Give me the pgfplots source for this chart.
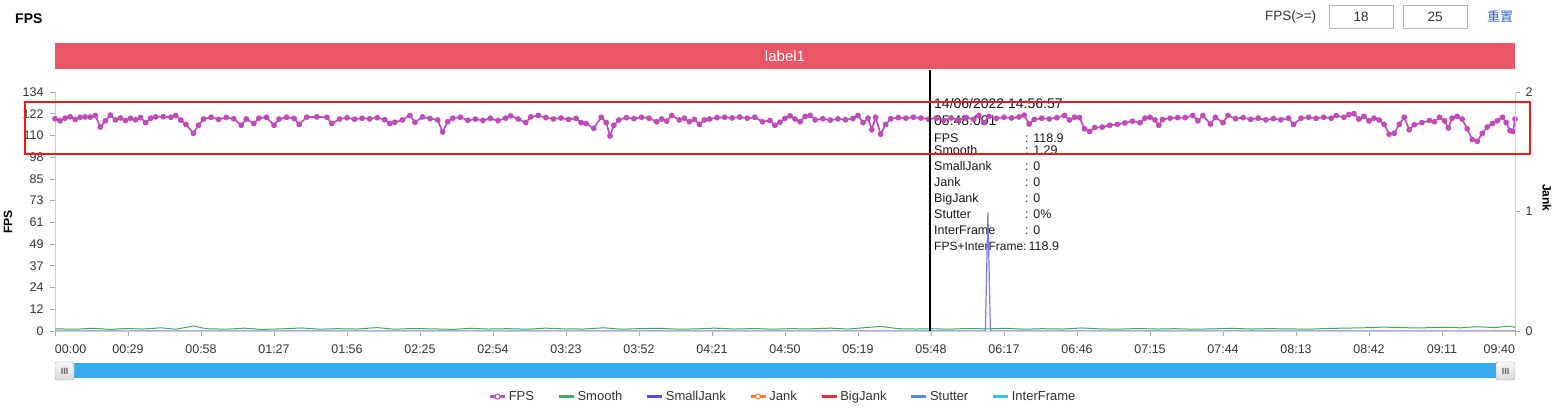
\documentclass[border=0pt]{standalone}
\usepackage{pgfplots}
\pgfplotsset{compat=1.18}
\usepackage{fontspec}
\setmainfont{Liberation Sans}
\newfontfamily\cjk{Noto Sans CJK SC}
\newcommand{\fs}[1]{\fontsize{#1}{#1}\selectfont}

\definecolor{fpscol}{HTML}{BF4CB8}
\definecolor{smoothcol}{HTML}{3DAA5C}
\definecolor{sjcol}{HTML}{5050E6}
\definecolor{jankcol}{HTML}{F57D32}
\definecolor{bjcol}{HTML}{E13237}
\definecolor{stcol}{HTML}{508CDC}
\definecolor{ifcol}{HTML}{28C8E1}
\definecolor{bannercol}{HTML}{EA5665}
\definecolor{boxred}{HTML}{E01E1E}
\definecolor{slidercol}{HTML}{38AAF0}
\definecolor{axgray}{HTML}{CCCCCC}
\definecolor{txt}{HTML}{333333}
\definecolor{linkblue}{HTML}{3366CC}

\begin{document}
\begin{tikzpicture}[x=1pt,y=1pt]
\path[use as bounding box, fill=white] (0,0) rectangle (1562,411);

% header
\node[anchor=west, font=\fs{14}\bfseries, text=black, inner sep=0] at (15,392) {FPS};
\node[anchor=west, font=\fs{13.5}, text=txt, inner sep=0] at (1265,394) {FPS(>=)};
\draw[draw=gray!60, fill=white] (1329,383) rectangle (1393,406);
\node[font=\fs{13.5}, text=txt] at (1361,394.5) {18};
\draw[draw=gray!60, fill=white] (1403,383) rectangle (1467,406);
\node[font=\fs{13.5}, text=txt] at (1435,394.5) {25};
\node[font=\cjk\fs{13}, text=linkblue] at (1500,395) {重置};

% banner
\fill[bannercol] (55,342) rectangle (1515,368);
\node[font=\fs{15}, text=white] at (785,355) {label1};

% axis titles
\node[rotate=90, font=\fs{12}\bfseries, text=black] at (8,189) {FPS};
\node[rotate=-90, font=\fs{12}\bfseries, text=black] at (1547,213) {Jank};

% tooltip text
\begin{scope}[every node/.style={anchor=base west, inner sep=0, text=black!90}]
\node[font=\fs{14}] at (934,302) {14/06/2022 14:56:57};
\node[font=\fs{14}] at (934,285) {05:48:001};
\node[font=\fs{12.5}] at (934,268) {FPS};            \node[font=\fs{12.5}] at (1025,268) {: 118.9};
\node[font=\fs{12.5}] at (934,256) {Smooth};         \node[font=\fs{12.5}] at (1025,256) {: 1.29};
\node[font=\fs{12.5}] at (934,240) {SmallJank};      \node[font=\fs{12.5}] at (1025,240) {: 0};
\node[font=\fs{12.5}] at (934,224) {Jank};           \node[font=\fs{12.5}] at (1025,224) {: 0};
\node[font=\fs{12.5}] at (934,208) {BigJank};        \node[font=\fs{12.5}] at (1025,208) {: 0};
\node[font=\fs{12.5}] at (934,192) {Stutter};        \node[font=\fs{12.5}] at (1025,192) {: 0\%};
\node[font=\fs{12.5}] at (934,176) {InterFrame};     \node[font=\fs{12.5}] at (1025,176) {: 0};
\node[font=\fs{12}] at (934,160) {FPS+InterFrame:};  \node[font=\fs{12.5}] at (1025,160) {\ 118.9};
\end{scope}

\begin{axis}[
    at={(55pt,80pt)}, anchor=south west,
    width=1460pt, height=239pt, scale only axis,
    xmin=0, xmax=580, ymin=0, ymax=134.2,
    axis x line*=bottom, axis y line*=left,
    axis line style={-, draw=axgray, line width=0.8pt},
    tick style={draw=gray!70, line width=0.8pt},
    tick align=outside, major tick length=5pt,
    xtick={0,29,58,87,116,145,174,203,232,261,290,319,348,377,406,435,464,493,522,551,580},
    xticklabels={\makebox[0pt][l]{00:00},00:29,00:58,01:27,01:56,02:25,02:54,03:23,03:52,04:21,04:50,05:19,05:48,06:17,06:46,07:15,07:44,08:13,08:42,09:11,\makebox[0pt][r]{09:40}},
    ytick={0,12.2,24.4,36.6,48.8,61,73.2,85.4,97.6,109.8,122,134.2},
    yticklabels={0,12,24,37,49,61,73,85,98,110,122,134},
    ticklabel style={font=\fs{12.5}, text=txt},
    xticklabel style={yshift=-5pt},
    yticklabel style={xshift=-3pt},
    /pgf/number format/assume math mode=true,
    legend columns=7,
    legend style={at={(rel axis cs:0.4985,-0.274)}, anchor=center, draw=none, fill=none,
        font=\fs{13}, text=txt,
        /tikz/every even column/.append style={column sep=21pt}},
    legend image code/.code={\draw[#1, mark=none, line width=3.5pt] (0pt,0pt) -- (15pt,0pt);},
    clip=false,
]
\addplot[fpscol, line width=1.7pt, mark=*, mark size=2pt, mark options={solid, fill=fpscol},
    legend image code/.code={\draw[fpscol, line width=3.5pt] (0pt,0pt) -- (15pt,0pt); \draw[fpscol, fill=white, line width=1pt] (7.5pt,0pt) circle (2.6pt);}]
coordinates {
(0,119.2)(2,118.0)(4,119.5)(6,120.3)(8,118.8)(10,120.0)(12,120.2)(14,120.1)(16,121.0)(18,114.5)
(20,118.0)(22,121.2)(24,118.5)(26,119.6)(28,118.2)(30,119.4)(32,118.6)(34,119.8)(36,117.0)(38,119.5)
(40,120.2)(43,120.3)(46,120.0)(48,121.0)(50,118.4)(52,116.0)(55,111.0)(57,115.5)(59,119.0)(62,120.0)
(65,118.8)(68,119.9)(71,119.2)(74,115.5)(76,119.0)(79,116.5)(81,119.5)(84,120.0)(87,115.5)(89,119.0)
(92,120.0)(95,119.3)(97,116.0)(100,120.1)(104,120.2)(108,120.0)(110,116.5)(113,119.0)(116,119.7)(119,118.9)
(122,119.5)(125,119.1)(128,119.8)(131,118.6)(133,116.5)(135,117.2)(138,118.5)(141,121.0)(143,117.2)(146,120.2)
(149,119.3)(152,118.5)(154,111.8)(156,117.5)(158,119.5)(161,120.0)(164,118.3)(167,119.0)(170,118.2)(173,119.4)
(176,118.1)(179,119.5)(181,120.8)(184,119.0)(187,117.0)(189,120.2)(192,121.0)(195,119.8)(198,119.0)(201,119.6)
(204,118.8)(207,119.4)(209,117.0)(211,116.5)(214,113.8)(217,120.0)(219,117.0)(220.5,109.5)(222,115.5)(224,118.5)
(227,119.8)(230,119.2)(233,120.0)(236,119.5)(239,117.5)(241,119.0)(243,117.8)(245,121.0)(248,118.5)(250,119.5)
(252,117.5)(254,118.8)(256,116.0)(258,118.5)(260,119.0)(263,119.8)(266,120.0)(269,119.6)(272,120.1)(275,119.5)
(278,120.0)(281,117.5)(284,118.2)(286,115.5)(288,117.2)(290,119.4)(292,120.8)(294,119.0)(296,117.5)(298,120.5)
(300,121.0)(302,118.5)(305,119.2)(308,118.4)(311,119.1)(314,118.6)(317,119.3)(319,121.0)(321,117.0)(323,119.5)
(324.5,113.0)(326,120.0)(328,110.5)(330,116.0)(332,119.2)(335,119.8)(338,119.5)(341,120.1)(344,119.6)(347,118.9)
(350,119.5)(353,118.2)(356,119.6)(359,118.5)(362,119.8)(365,118.8)(367,121.0)(369,117.0)(371,120.5)(374,119.4)
(377,120.0)(380,119.6)(383,120.2)(385,121.2)(387,116.2)(389,118.8)(392,119.5)(395,119.0)(398,119.8)(401,121.0)
(403,118.5)(405,120.0)(407,119.8)(409,113.5)(411,112.0)(413,114.2)(416,114.5)(419,115.5)(422,116.0)(425,116.8)
(428,117.8)(431,117.0)(433,119.5)(435,120.0)(437,118.5)(438.5,115.5)(440,118.8)(443,119.5)(446,119.8)(449,119.8)
(452,121.0)(454,118.0)(456,121.0)(459,116.2)(461,120.0)(464,117.0)(466,121.0)(469,119.2)(472,119.8)(475,118.8)
(478,119.5)(481,118.5)(484,119.3)(487,118.6)(490,119.5)(492,116.0)(495,119.5)(498,120.0)(501,119.4)(504,120.0)
(507,119.5)(509,121.0)(512,120.0)(514,121.5)(516,122.0)(518,119.0)(520,120.5)(522,118.0)(524,119.5)(526,118.5)
(528,116.0)(530,110.5)(532,111.0)(534,116.0)(536,120.0)(538,113.0)(540,115.8)(543,117.0)(546,118.2)(548,117.5)
(550,120.0)(552,118.0)(553.5,114.0)(555,119.5)(557,120.5)(559,119.0)(561,113.5)(563,107.5)(565,106.5)(567,111.0)
(569,114.5)(571,116.5)(573,118.0)(575,120.0)(576.5,117.0)(578,112.5)(579.2,112.0)(580,119.0)
};
\addlegendentry{FPS}
\addplot[smoothcol, line width=1pt] coordinates {
(0,1.2)(8,1.0)(15,1.5)(22,0.9)(28,1.4)(35,1.1)(42,1.8)(48,1.0)(55,2.8)(60,1.3)
(68,1.0)(75,1.6)(82,0.9)(90,1.2)(98,1.7)(105,1.0)(112,1.3)(120,1.1)(128,1.9)(135,1.0)
(142,1.4)(150,1.2)(158,0.9)(165,1.5)(172,1.1)(180,1.3)(188,1.0)(195,1.6)(202,1.2)(210,1.1)
(218,1.8)(225,1.0)(232,1.3)(240,1.5)(248,1.0)(255,1.2)(262,1.6)(270,1.1)(278,1.4)(285,1.0)
(292,1.3)(300,1.2)(308,1.6)(315,1.1)(322,1.9)(328,2.6)(335,1.3)(342,1.1)(348,1.29)(355,1.0)
(362,1.4)(370,1.2)(378,1.5)(385,1.0)(392,1.3)(400,1.1)(408,1.7)(415,1.2)(422,1.0)(430,1.4)
(438,1.1)(445,1.3)(452,1.0)(460,1.2)(468,1.5)(475,1.1)(482,1.3)(490,1.2)(498,1.0)(505,1.4)
(512,1.6)(520,1.8)(528,2.2)(535,1.9)(542,1.7)(550,2.1)(558,1.8)(565,2.4)(572,1.9)(578,2.8)(580,2.0)
};
\addlegendentry{Smooth}
\addlegendimage{sjcol}
\addlegendentry{SmallJank}
\addlegendimage{jankcol, legend image code/.code={\draw[jankcol, line width=3.5pt] (0pt,0pt) -- (15pt,0pt); \draw[jankcol, fill=white, line width=1pt] (7.5pt,0pt) circle (2.6pt);}}
\addlegendentry{Jank}
\addlegendimage{bjcol}
\addlegendentry{BigJank}
\addlegendimage{stcol}
\addlegendentry{Stutter}
\addlegendimage{ifcol}
\addlegendentry{InterFrame}
\end{axis}

\begin{axis}[
    at={(55pt,80pt)}, anchor=south west,
    width=1460pt, height=239pt, scale only axis,
    xmin=0, xmax=580, ymin=0, ymax=2,
    axis x line=none, axis y line*=right,
    axis line style={-, draw=axgray, line width=0.8pt},
    tick style={draw=gray!70, line width=0.8pt},
    tick align=outside, major tick length=5pt,
    ytick={0,1,2},
    yticklabel style={font=\fs{12.5}, text=txt, xshift=2pt},
    /pgf/number format/assume math mode=true,
]
\addplot[jankcol!70!smoothcol, line width=0.8pt, opacity=0.6] coordinates {(0,0)(580,0)};
\addplot[sjcol!75, line width=1.2pt] coordinates {(0,0)(369.6,0)(370.6,0.99)(371.6,0)(580,0)};
\end{axis}

% cursor line and highlight box
\draw[black, line width=2pt] (930,80) -- (930,341);
\draw[boxred, line width=1.8pt] (25,257) rectangle (1530,309);

% zoom slider
\fill[slidercol] (55,33) rectangle (1515,48);
\draw[gray!70, top color=gray!5, bottom color=gray!30, rounded corners=1.5pt] (55,31) rectangle (74,49);
\node[font=\fs{9}\bfseries, text=gray!80!black] at (64.5,40) {III};
\draw[gray!70, top color=gray!5, bottom color=gray!30, rounded corners=1.5pt] (1496,31) rectangle (1515,49);
\node[font=\fs{9}\bfseries, text=gray!80!black] at (1505.5,40) {III};
\end{tikzpicture}
\end{document}
